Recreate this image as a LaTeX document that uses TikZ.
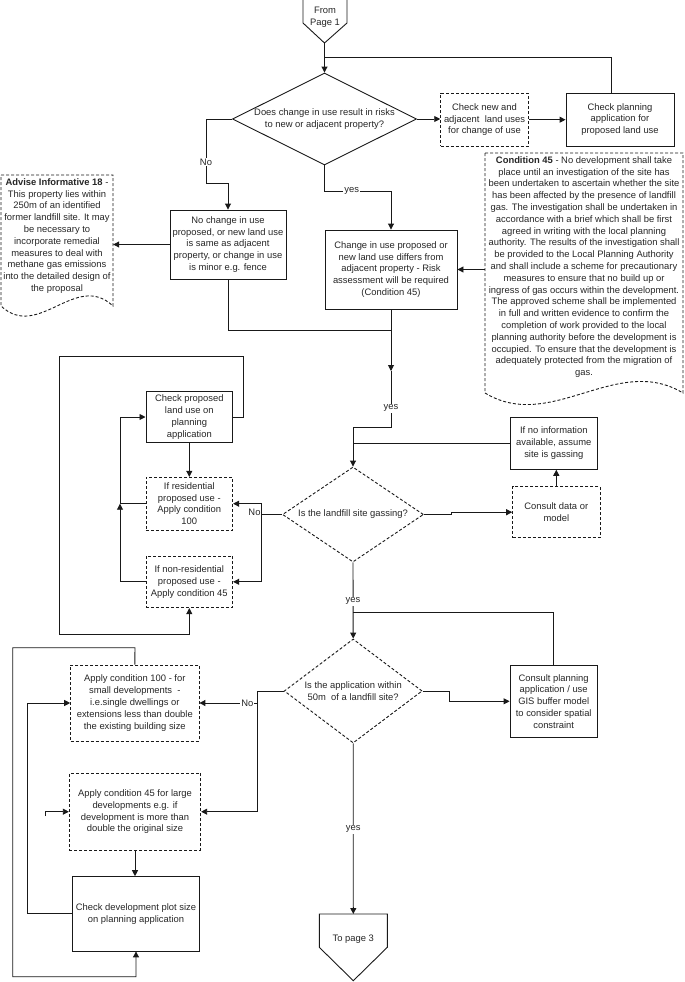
\documentclass[tikz,border=0pt]{standalone}
\usepackage{fontspec}
\setmainfont{Liberation Sans}
\usetikzlibrary{arrows.meta,shapes.geometric}
\newcommand\ftxt{\fontsize{9.4bp}{11.8bp}\selectfont}
\begin{document}
\begin{tikzpicture}[x=1bp,y=-1bp, font=\ftxt, text=black!85,
 ln/.style={draw=black!90, line width=0.9bp},
 box/.style={ln, align=center, inner sep=1bp},
 dbox/.style={box, dash pattern=on 3bp off 2bp},
 dln/.style={ln, dash pattern=on 3bp off 2bp},
 diam/.style={ln, shape=diamond, inner sep=0bp},
 ddiam/.style={diam, dash pattern=on 3bp off 2bp},
 arr/.style={ln, -{Triangle[length=6bp,width=6bp]}},
 lbl/.style={fill=white, inner sep=1bp},
 doc/.style={inner sep=0bp, align=center}]

\useasboundingbox (0,0) rectangle (685,982);

% ---------- off-page connector: From Page 1
\draw[ln] (303,-2) -- (347,-2) -- (347,23) -- (324.5,43) -- (303,23) -- cycle;
\node[doc] (fromtxt) at (325,17) {From\\Page 1};
\coordinate (fromtip) at (324.5,43);
\coordinate (j1) at (324.5,57);

% ---------- nodes
\node[diam, minimum width=184bp, minimum height=92bp] (d1) at (324.5,119) {};
\node[doc] (d1t) at (d1.center) {Does change in use result in risks\\to new or adjacent property?};
\node[dbox, minimum width=87.6bp, minimum height=52.7bp] (chknew) at (484.5,119.7)
  {Check new and\\adjacent~ land uses\\for change of use};
\node[box, minimum width=108bp, minimum height=53bp] (chkplan) at (620,119.5)
  {Check planning\\application for\\proposed land use};
\node[box, minimum width=116bp, minimum height=69bp] (nochg) at (228,244.5)
  {No change in use\\proposed, or new land use\\is same as adjacent\\property, or change in use\\is minor e.g. fence};
\node[box, minimum width=132bp, minimum height=79bp] (chg) at (391,269.5)
  {Change in use proposed or\\new land use differs from\\adjacent property - Risk\\assessment will be required\\(Condition 45)};

% Advise informative document
\draw[dln] (1,175) -- (113,175) -- (113,306)
  .. controls (75.7,271) and (38.3,341) .. (1,306) -- cycle;
\node[doc, minimum width=112bp] (adv) at (57,236)
  {\textbf{Advise Informative 18} -\\This property lies within\\250m of an identified\\former landfill site. It may\\be necessary to\\incorporate remedial\\measures to deal with\\methane gas emissions\\into the detailed design of\\the proposal};

% Condition 45 document
\draw[dln] (485,153) -- (683,153) -- (683,393)
  .. controls (617,353) and (551,433) .. (485,393) -- cycle;
\node[doc, minimum width=198bp] (cond) at (584,267)
  {\textbf{Condition 45} - No development shall take\\place until an investigation of the site has\\been undertaken to ascertain whether the site\\has been affected by the presence of landfill\\gas. The investigation shall be undertaken in\\accordance with a brief which shall be first\\agreed in writing with the local planning\\authority. The results of the investigation shall\\be provided to the Local Planning Authority\\and shall include a scheme for precautionary\\measures to ensure that no build up or\\ingress of gas occurs within the development.\\The approved scheme shall be implemented\\in full and written evidence to confirm the\\completion of work provided to the local\\planning authority before the development is\\occupied. To ensure that the development is\\adequately protected from the migration of\\gas.};

\node[box, minimum width=86.7bp, minimum height=51.4bp] (chkprop) at (189.3,417)
  {Check proposed\\land use on\\planning\\application};
\node[dbox, minimum width=86.7bp, minimum height=52.7bp] (res) at (189.3,503.7)
  {If residential\\proposed use -\\Apply condition\\100};
\node[dbox, minimum width=86.7bp, minimum height=51.7bp] (nonres) at (189.3,581.8)
  {If non-residential\\proposed use -\\Apply condition 45};
\node[box, minimum width=87.7bp, minimum height=52bp] (noinfo) at (553.8,443.3)
  {If no information\\available, assume\\site is gassing};
\node[dbox, minimum width=87.3bp, minimum height=51bp] (consult) at (556.3,512.2)
  {Consult data or\\model};
\node[ddiam, minimum width=141bp, minimum height=95bp] (d2) at (353,514.5) {};
\node[doc] (d2t) at (d2.center) {Is the landfill site gassing?};
\node[ddiam, minimum width=138bp, minimum height=104bp] (d3) at (353.2,691) {};
\node[doc] (d3t) at (d3.center) {Is the application within\\50m~ of a landfill site?};
\node[box, minimum width=87.3bp, minimum height=72.7bp] (gis) at (553.7,701.3)
  {Consult planning\\application / use\\GIS buffer model\\to consider spatial\\constraint};
\node[dbox, minimum width=128.3bp, minimum height=76bp] (app100) at (134.8,703)
  {Apply condition 100 - for\\small developments~ -\\i.e.single dwellings or\\extensions less than double\\the existing building size};
\node[dbox, minimum width=131.4bp, minimum height=76.7bp] (app45) at (135,811.7)
  {Apply condition 45 for large\\developments e.g. if\\development is more than\\double the original size};
\node[box, minimum width=126.6bp, minimum height=74.3bp] (plot) at (136,913.8)
  {Check development plot size\\on planning application};

% ---------- off-page connector: To page 3
\draw[ln] (319.3,914) -- (387.3,914) -- (387.3,947.3) -- (353.3,980.7) -- (319.3,947.3) -- cycle;
\node[doc] (totxt) at (353.3,939) {To page 3};
\coordinate (totop) at (353.3,914);

% ---------- connectors
\draw[arr] (fromtip) -- (d1.north);
\draw[ln] ([xshift=-9bp]chkplan.north) |- (j1);
\draw[arr] (d1.east) -- (chknew.west |- d1.east);
\draw[arr] (chknew.east) -- (chkplan.west |- chknew.east);
\draw[arr] (d1.west) -- (206,119) -- (206,183) -- (228,183) -- (nochg.north);
\draw[arr] (nochg.west) -- (nochg.west -| adv.east);
\draw[arr] (d1.south) -- (324.5,191) -- (391,191) -- (chg.north);
\draw[arr] (cond.west |- chg.east) -- (chg.east);
\coordinate (m1) at (391,371);
\draw[arr] (chg.south) -- (m1);
\draw[ln] (nochg.south) -- (228,330) -- (391,330);
\draw[arr] (m1) -- (391,427) -- (353,427) -- (d2.north);
\draw[ln] (noinfo.west) -- (noinfo.west -| d2.north);
\draw[arr] (consult.north) -- (consult.north |- noinfo.south);
\draw[arr] (d2.east) -- (451,514.5) -- (451,512.2) -- (consult.west);
\draw[arr] (d2.west) -- (261,514.5) -- (261,503.7) -- (res.east);
\draw[arr] (261,514.5) -- (261,581.8) -- (nonres.east);
\draw[arr] (chkprop.south) -- (res.north);
\draw[arr] (chkprop.east) -- (243.3,417) -- (243.3,356) -- (59.3,356) -- (59.3,634) -- (189.3,634) -- (nonres.south);
\coordinate (m2) at (120,503.7);
\draw[arr] (nonres.west) -- (120,581.8) -- (m2);
\draw[ln] (res.west) -- (m2);
\draw[arr] (m2) -- (120,417) -- (chkprop.west);
\draw[arr] (d2.south) -- (d3.north);
\draw[ln] (gis.north) -- (553.7,612.7) -- (353,612.7);
\draw[arr] (d3.east) -- (449,691) -- (449,701.3) -- (gis.west);
\draw[arr] (d3.west) -- (257.3,691) -- (257.3,811.7) -- (app45.east);
\draw[arr] (257.3,703) -- (app100.east);
\draw[arr] (d3.south) -- (totop);
\draw[arr] (app100.north) -- (135,647.7) -- (12.7,647.7) -- (12.7,976.7) -- (136,976.7) -- (plot.south);
\draw[arr] (plot.west) -- (27.3,913.8) -- (27.3,703) -- (app100.west);
\coordinate (stub) at (45,816);
\draw[arr] (stub) -- (45,811.7) -- (app45.west);
\draw[arr] (app45.south) -- (app45.south |- plot.north);

% ---------- labels
\node[lbl] (lno1) at (206,162) {No};
\node[lbl] (lyes1) at (351.7,191) {yes};
\node[lbl] (lyes2) at (391,408) {yes};
\node[inner sep=0bp] (lno2) at (254.5,512) {No};
\node[lbl] (lyes3) at (353,601) {yes};
\node[lbl] (lno3) at (247.3,703) {No};
\node[lbl] (lyes4) at (353.2,829) {yes};
\end{tikzpicture}
\end{document}
